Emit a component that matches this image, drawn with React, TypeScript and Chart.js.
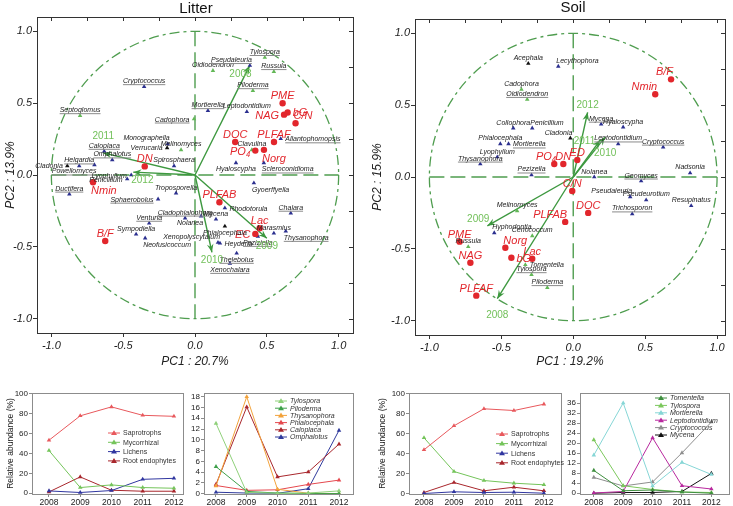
import React, { useEffect, useRef } from 'react';
import { Chart, registerables } from 'chart.js';
Chart.register(...registerables);

const FONT = "'Liberation Sans', Arial, Helvetica, sans-serif";

// ================= Biplot data: Litter =================
const litterEnvNames = ['PME', 'bG', 'NAG', 'C/N', 'DOC', 'PLFAF', 'PO₄', 'Norg', 'DN', 'Nmin', 'B/F', 'PLFAB', 'Lac', 'EC'];
const litterEnvPC1 = [0.61, 0.645, 0.62, 0.70, 0.28, 0.55, 0.42, 0.48, -0.35, -0.71, -0.625, 0.17, 0.45, 0.42];
const litterEnvPC2 = [0.50, 0.435, 0.42, 0.36, 0.23, 0.23, 0.17, 0.175, 0.06, -0.05, -0.46, -0.19, -0.37, -0.41];
const litterEnvPlace = ['t', 'r', 'l', 'tr', 't', 't', 'l', 'br', 't', 'br', 't', 't', 't', 'l'];

const litterBlueNames = ['Cryptococcus', 'Monographella', 'Spirosphaera', 'Helgardia', 'Caloplaca', 'Omphalotus', 'Powellomyces', 'Lyophyllum', 'Penicillium', 'Ductifera', 'Troposporella', 'Sphaerobolus', 'Cladophialophora', 'Venturia', 'Nolanea', 'Mycena', 'Sympodiella', 'Neofusicoccum', 'Rhodotorula', 'Heyderia', 'Thelebolus', 'Xenochalara', 'Hyaloscypha', 'Scleroconidioma', 'Gyoerffyella', 'Chalara', 'Marasmius', 'Thysanophora', 'Peziziella', 'Pseudaleuria', 'Mortierella', 'Leptodontidium', 'Allantophomopsis', 'Xenopolyscytalum'];
const litterBluePC1 = [-0.354, -0.19, -0.146, -0.806, -0.632, -0.576, -0.70, -0.444, -0.472, -0.875, -0.132, -0.257, -0.069, -0.319, 0.042, 0.146, -0.41, -0.347, 0.208, 0.174, 0.29, 0.243, 0.285, 0.479, 0.41, 0.667, 0.549, 0.632, 0.4375, 0.382, 0.09, 0.361, 0.597, 0.16];
const litterBluePC2 = [0.615, 0.217, 0.063, 0.063, 0.165, 0.105, 0.07, 0.0, -0.028, -0.133, -0.126, -0.168, -0.30, -0.336, -0.287, -0.308, -0.413, -0.44, -0.23, -0.475, -0.545, -0.615, 0.084, 0.084, -0.056, -0.266, -0.406, -0.392, -0.427, 0.762, 0.448, 0.44, 0.252, -0.47];
const litterBluePlace = ['t', 'tl', 't', 't', 't', 't', 'bl', 'l', 'l', 't', 't', 'l', 't', 't', 'bl', 't', 't', 'br', 'r', 'r', 'b', 'b', 'b', 'br', 'br', 't', 't', 'br', 'b', 'tl', 't', 't', 'r', 'tl'];

const litterGreenNames = ['Tylospora', 'Russula', 'Oidiodendron', 'Piloderma', 'Septoglomus', 'Cadophora', 'Melinomyces', 'Clavulina'];
const litterGreenPC1 = [0.486, 0.549, 0.125, 0.403, -0.80, -0.007, -0.097, 0.396];
const litterGreenPC2 = [0.818, 0.72, 0.727, 0.587, 0.413, 0.39, 0.175, 0.175];
const litterGreenPlace = ['t', 't', 't', 't', 't', 'l', 't', 't'];

const litterBlackNames = ['Verrucaria', 'Cladonia', 'Phialocephala'];
const litterBlackPC1 = [-0.194, -0.889, 0.208];
const litterBlackPC2 = [0.189, 0.063, -0.357];
const litterBlackPlace = ['l', 'l', 'b'];

const litterYearNames = ['2008', '2009', '2010', '2011', '2012'];
const litterYearPC1 = [0.38, 0.50, 0.118, -0.639, -0.43];
const litterYearPC2 = [0.76, -0.44, -0.538, 0.154, 0.02];
const litterYearPlace = ['bl', 'b', 'b', 'T', 'br'];

const litterUnderlined = ['Cryptococcus', 'Helgardia', 'Caloplaca', 'Omphalotus', 'Powellomyces', 'Ductifera', 'Sphaerobolus', 'Cladophialophora', 'Venturia', 'Thelebolus', 'Xenochalara', 'Scleroconidioma', 'Chalara', 'Thysanophora', 'Peziziella', 'Pseudaleuria', 'Mortierella', 'Allantophomopsis', 'Tylospora', 'Russula', 'Piloderma', 'Septoglomus', 'Cadophora'];

// ================= Biplot data: Soil =================
const soilEnvNames = ['B/F', 'Nmin', 'PO₄', 'DN', 'ED', 'C/N', 'DOC', 'PLFAB', 'PME', 'NAG', 'Norg', 'bG', 'Lac', 'PLFAF'];
const soilEnvPC1 = [0.68, 0.57, -0.132, -0.069, 0.028, -0.007, 0.104, -0.056, -0.79, -0.715, -0.472, -0.43, -0.285, -0.674];
const soilEnvPC2 = [0.68, 0.576, 0.09, 0.09, 0.118, -0.097, -0.25, -0.3125, -0.45, -0.597, -0.493, -0.5625, -0.569, -0.826];
const soilEnvPlace = ['tl', 'tl', 'tl', 't', 't', 't', 't', 'tl', 't', 't', 'tr', 'r', 't', 't'];

const soilBlueNames = ['Lecythophora', 'Collophora', 'Penicillium', 'Phialocephala', 'Mortierella', 'Lyophyllum', 'Thysanophora', 'Pezizella', 'Mycena', 'Hyaloscypha', 'Leptodontidium', 'Cryptococcus', 'Nolanea', 'Geomyces', 'Nadsonia', 'Pseudaleuria', 'Pseudeurotium', 'Resupinatus', 'Trichosporon', 'Hyphodontia'];
const soilBluePC1 = [-0.104, -0.417, -0.285, -0.507, -0.45, -0.528, -0.646, -0.29, 0.194, 0.347, 0.3125, 0.625, 0.146, 0.472, 0.8125, 0.396, 0.507, 0.82, 0.41, -0.549];
const soilBluePC2 = [0.77, 0.34, 0.34, 0.23, 0.23, 0.139, 0.09, 0.014, 0.368, 0.347, 0.23, 0.208, 0.0, -0.028, 0.028, -0.139, -0.16, -0.20, -0.257, -0.389];
const soilBluePlace = ['tr', 't', 'tr', 't', 'r', 't', 't', 't', 't', 't', 't', 't', 't', 't', 't', 'tl', 't', 't', 't', 'tr'];

const soilGreenNames = ['Cadophora', 'Oidiodendron', 'Melinomyces', 'Cenococcum', 'Russula', 'Tomentella', 'Tylospora', 'Piloderma'];
const soilGreenPC1 = [-0.36, -0.32, -0.39, -0.285, -0.73, -0.333, -0.29, -0.18];
const soilGreenPC2 = [0.61, 0.54, -0.236, -0.41, -0.486, -0.611, -0.68, -0.77];
const soilGreenPlace = ['t', 't', 't', 't', 't', 'r', 't', 't'];

const soilBlackNames = ['Acephala', 'Cladonia'];
const soilBlackPC1 = [-0.3125, -0.02];
const soilBlackPC2 = [0.79, 0.27];
const soilBlackPlace = ['t', 'tl'];

const soilYearNames = ['2008', '2009', '2010', '2011', '2012'];
const soilYearPC1 = [-0.528, -0.597, 0.222, 0.1875, 0.10];
const soilYearPC2 = [-0.847, -0.34, 0.278, 0.257, 0.45];
const soilYearPlace = ['B', 'tl', 'B', 'l', 't'];

const soilUnderlined = ['Mortierella', 'Thysanophora', 'Pezizella', 'Mycena', 'Leptodontidium', 'Cryptococcus', 'Geomyces', 'Trichosporon', 'Oidiodendron', 'Tylospora', 'Piloderma'];

// ================= Line chart data =================
const years = [2008, 2009, 2010, 2011, 2012];
const guildNames = ['Saprotrophs', 'Mycorrhizal', 'Lichens', 'Root endophytes'];

const litterSaprotrophs = [53.4, 78, 87, 78.5, 77.5];
const litterMycorrhizal = [43, 5.7, 8.4, 5.7, 5];
const litterLichens = [2.3, 0.7, 2.7, 14, 15];
const litterRootEndophytes = [1.3, 16.4, 3, 2, 2];

const litterGeneraNames = ['Tylospora', 'Piloderma', 'Thysanophora', 'Phialocephala', 'Caloplaca', 'Omphalotus'];
const litterTylospora = [13.05, 0.2, 0.06, 0.1, 0.5];
const litterPiloderma = [5, 0.4, 0.1, 0, 0];
const litterThysanophora = [1.4, 18, 0.8, 0.06, 0];
const litterPhialocephala = [1.5, 0.6, 0.7, 1.7, 2.5];
const litterCaloplaca = [1.7, 16.1, 3.1, 4, 9.2];
const litterOmphalotus = [0.25, 0.1, 0.05, 0.9, 11.75];

const soilSaprotrophs = [43.7, 67.7, 84.7, 83, 89.3];
const soilMycorrhizal = [55.7, 22, 13, 10.3, 8.7];
const soilLichens = [0, 1.7, 1, 1.3, 0.3];
const soilRootEndophytes = [1, 11, 2.7, 6.3, 2.7];

const soilGeneraNames = ['Tomentella', 'Tylospora', 'Mortierella', 'Leptodontidium', 'Cryptococcus', 'Mycena'];
const soilTomentella = [9.1, 1, 1.3, 0.5, 0];
const soilTylospora = [21.3, 3, 1.5, 0.5, 0.3];
const soilMortierella = [15.2, 36, 2.9, 12.3, 7.5];
const soilLeptodontidium = [0.1, 0.7, 22.1, 3, 1.7];
const soilCryptococcus = [6.3, 2.9, 4.5, 16.1, 28.4];
const soilMycena = [0, 0.3, 0.3, 0.7, 7.9];

// ================= Colours =================
const RED = '#e2262c';
const BLUE = '#2b2f8f';
const GREEN_PT = '#63b857';
const ARROW = '#3d983f';
const YEARCOL = '#72c05a';
const DASH = '#4f9d4f';

// ================= Biplot =================
function drawTag(ctx: CanvasRenderingContext2D, text: string, px: number, py: number, placeIn: string, gapIn: number, fontSize: number, underline: boolean) {
  let place = placeIn;
  let gap = gapIn;
  if (place === 'T') { place = 't'; gap = gapIn * 3.5; }
  if (place === 'B') { place = 'b'; gap = gapIn * 3; }
  const w = ctx.measureText(text).width;
  const asc = fontSize * 0.72;
  const v = place[0];
  const h = place.length === 2 ? place[1] : '';
  let base: number;
  if (v === 't') base = py - gap;
  else if (v === 'b') base = py + gap + asc;
  else base = py + asc / 2;
  let left: number;
  if (place === 't' || place === 'b') left = px - w / 2;
  else if (place === 'l') left = px - gap - 1 - w;
  else if (place === 'r') left = px + gap + 1;
  else if (h === 'l') left = px + 2 - w;
  else left = px - 2;
  ctx.textAlign = 'left';
  ctx.textBaseline = 'alphabetic';
  ctx.fillText(text, left, base);
  if (underline) {
    ctx.save();
    ctx.strokeStyle = '#8a8a8a';
    ctx.lineWidth = 1;
    ctx.beginPath();
    ctx.moveTo(left, base + 1.5);
    ctx.lineTo(left + w, base + 1.5);
    ctx.stroke();
    ctx.restore();
  }
}

function makeBiplotPlugin(underlined: string[]) {
  return {
    id: 'biplot',
    beforeDatasetsDraw(chart: any) {
      const { ctx } = chart;
      const x = chart.scales.x, y = chart.scales.y;
      const cx = x.getPixelForValue(0), cy = y.getPixelForValue(0);
      const rx = x.getPixelForValue(1) - cx, ry = cy - y.getPixelForValue(1);
      ctx.save();
      ctx.strokeStyle = DASH;
      ctx.lineWidth = 1.3;
      ctx.setLineDash([10, 4, 3, 4]);
      ctx.beginPath();
      ctx.ellipse(cx, cy, rx, ry, 0, 0, Math.PI * 2);
      ctx.stroke();
      ctx.setLineDash([15, 6]);
      ctx.lineWidth = 1.4;
      ctx.beginPath();
      ctx.moveTo(x.getPixelForValue(-1), cy);
      ctx.lineTo(x.getPixelForValue(1), cy);
      ctx.moveTo(cx, y.getPixelForValue(1));
      ctx.lineTo(cx, y.getPixelForValue(-1));
      ctx.stroke();
      ctx.setLineDash([]);
      // year arrows
      chart.data.datasets.forEach((d: any, di: number) => {
        if (d.kind !== 'year') return;
        const meta = chart.getDatasetMeta(di);
        meta.data.forEach((el: any) => {
          const tx = el.x, ty = el.y;
          const ang = Math.atan2(ty - cy, tx - cx);
          ctx.strokeStyle = ARROW;
          ctx.fillStyle = ARROW;
          ctx.lineWidth = 1.4;
          ctx.beginPath();
          ctx.moveTo(cx, cy);
          ctx.lineTo(tx, ty);
          ctx.stroke();
          const L = 9, a = 0.38;
          ctx.beginPath();
          ctx.moveTo(tx, ty);
          ctx.lineTo(tx - L * Math.cos(ang - a), ty - L * Math.sin(ang - a));
          ctx.lineTo(tx - L * 0.6 * Math.cos(ang), ty - L * 0.6 * Math.sin(ang));
          ctx.lineTo(tx - L * Math.cos(ang + a), ty - L * Math.sin(ang + a));
          ctx.closePath();
          ctx.fill();
        });
      });
      ctx.restore();
    },
    afterDatasetsDraw(chart: any) {
      const { ctx, chartArea } = chart;
      const x = chart.scales.x, y = chart.scales.y;
      ctx.save();
      chart.data.datasets.forEach((d: any, di: number) => {
        const meta = chart.getDatasetMeta(di);
        let fs = 7, gap = 3.5;
        if (d.kind === 'env') { fs = 11; gap = 4; ctx.font = `italic ${fs}px ${FONT}`; ctx.fillStyle = RED; }
        else if (d.kind === 'year') { fs = 10; gap = 4; ctx.font = `${fs}px ${FONT}`; ctx.fillStyle = YEARCOL; }
        else { ctx.font = `italic ${fs}px ${FONT}`; ctx.fillStyle = '#222'; }
        meta.data.forEach((el: any, i: number) => {
          const name = d.names[i];
          drawTag(ctx, name, el.x, el.y, d.place[i], gap, fs, underlined.includes(name) && d.kind !== 'env' && d.kind !== 'year');
        });
      });
      // frame
      ctx.strokeStyle = '#333';
      ctx.lineWidth = 1;
      ctx.strokeRect(Math.round(chartArea.left) + 0.5, Math.round(chartArea.top) + 0.5, Math.round(chartArea.right - chartArea.left), Math.round(chartArea.bottom - chartArea.top));
      // inward minor ticks on top and right
      ctx.beginPath();
      for (let v = -1; v <= 1.0001; v += 0.25) {
        const px = Math.round(x.getPixelForValue(v)) + 0.5;
        ctx.moveTo(px, chartArea.top);
        ctx.lineTo(px, chartArea.top + 4);
        const py = Math.round(y.getPixelForValue(v)) + 0.5;
        ctx.moveTo(chartArea.right, py);
        ctx.lineTo(chartArea.right - 4, py);
      }
      ctx.stroke();
      ctx.restore();
    },
  };
}

function ptDataset(kind: string, names: string[], xs: number[], ys: number[], place: string[], color: string, style: string, radius: number) {
  return {
    label: kind,
    kind,
    names,
    place,
    data: xs.map((v, i) => ({ x: v, y: ys[i] })),
    pointStyle: style,
    pointRadius: radius,
    pointHoverRadius: radius,
    backgroundColor: color,
    borderColor: color,
    borderWidth: 0,
    showLine: false,
  };
}

const majorTicks = [-1, -0.5, 0, 0.5, 1];

function makeBiplotConfig(p: any) {
  const tickFont = { family: FONT, size: 11, style: 'italic' as const };
  const titleFont = { family: FONT, size: 12, style: 'italic' as const };
  return {
    type: 'scatter',
    data: {
      datasets: [
        ptDataset('env', p.envNames, p.envX, p.envY, p.envPlace, RED, 'circle', 3.2),
        ptDataset('black', p.blackNames, p.blackX, p.blackY, p.blackPlace, '#111', 'triangle', 2.6),
        ptDataset('green', p.greenNames, p.greenX, p.greenY, p.greenPlace, GREEN_PT, 'triangle', 2.6),
        ptDataset('blue', p.blueNames, p.blueX, p.blueY, p.bluePlace, BLUE, 'triangle', 2.6),
        ptDataset('year', p.yearNames, p.yearX, p.yearY, p.yearPlace, ARROW, 'circle', 0),
      ],
    },
    options: {
      responsive: false,
      animation: false,
      layout: { padding: { top: p.padTop, right: p.padRight, left: 0, bottom: 0 } },
      plugins: { legend: { display: false }, tooltip: { enabled: false } },
      scales: {
        x: {
          type: 'linear', min: p.xMin, max: p.xMax,
          afterBuildTicks: (s: any) => { s.ticks = majorTicks.map((v) => ({ value: v })); },
          afterFit: (s: any) => { s.height = p.xHeight; },
          ticks: { callback: (v: any) => Number(v).toFixed(1), font: tickFont, color: '#222', padding: 2, maxRotation: 0, autoSkip: false },
          grid: { drawOnChartArea: false, tickLength: 4, color: '#333' },
          border: { display: false },
          title: { display: true, text: p.xTitle, font: titleFont, color: '#222', padding: { top: 0, bottom: 3 } },
        },
        y: {
          type: 'linear', min: -1.1, max: 1.1,
          afterBuildTicks: (s: any) => { s.ticks = majorTicks.map((v) => ({ value: v })); },
          afterFit: (s: any) => { s.width = p.yWidth; },
          ticks: { callback: (v: any) => Number(v).toFixed(1), font: tickFont, color: '#222', padding: 1, autoSkip: false },
          grid: { drawOnChartArea: false, tickLength: 4, color: '#333' },
          border: { display: false },
          title: { display: true, text: p.yTitle, font: titleFont, color: '#222', padding: { top: p.yTitlePad, bottom: 0 } },
        },
      },
    },
    plugins: [makeBiplotPlugin(p.underlined)],
  };
}

// ================= Line charts =================
function makeLinePlugin(legend: any) {
  return {
    id: 'frameLegend',
    afterDatasetsDraw(chart: any) {
      const { ctx, chartArea } = chart;
      ctx.save();
      ctx.strokeStyle = '#8c8c8c';
      ctx.lineWidth = 1;
      ctx.strokeRect(Math.round(chartArea.left) + 0.5, Math.round(chartArea.top) + 0.5, Math.round(chartArea.right - chartArea.left), Math.round(chartArea.bottom - chartArea.top));
      ctx.font = `${legend.italic ? 'italic ' : ''}7px ${FONT}`;
      ctx.textBaseline = 'middle';
      ctx.textAlign = 'left';
      chart.data.datasets.forEach((d: any, i: number) => {
        const yy = legend.y + i * legend.dy;
        const x0 = legend.x;
        ctx.strokeStyle = d.borderColor;
        ctx.fillStyle = d.borderColor;
        ctx.lineWidth = 1;
        ctx.beginPath();
        ctx.moveTo(x0, yy);
        ctx.lineTo(x0 + 12, yy);
        ctx.stroke();
        ctx.beginPath();
        ctx.moveTo(x0 + 6, yy - 2.8);
        ctx.lineTo(x0 + 9, yy + 2);
        ctx.lineTo(x0 + 3, yy + 2);
        ctx.closePath();
        ctx.fill();
        ctx.fillStyle = '#333';
        ctx.fillText(d.label, x0 + 15, yy + 0.5);
      });
      ctx.restore();
    },
  };
}

function makeLineConfig(p: any) {
  const tickFont = { family: FONT, size: 8.5 };
  return {
    type: 'line',
    data: {
      datasets: p.names.map((n: string, i: number) => ({
        label: n,
        data: years.map((yr, j) => ({ x: yr, y: p.values[i][j] })),
        borderColor: p.colors[i],
        backgroundColor: p.colors[i],
        borderWidth: 1,
        pointStyle: 'triangle',
        pointRadius: 2.6,
        pointBorderWidth: 0,
        tension: 0,
        fill: false,
      })),
    },
    options: {
      responsive: false,
      animation: false,
      layout: { padding: { top: p.padTop, right: p.padRight, left: 0, bottom: 0 } },
      plugins: { legend: { display: false }, tooltip: { enabled: false } },
      scales: {
        x: {
          type: 'linear', min: p.xMin, max: p.xMax,
          afterBuildTicks: (s: any) => { s.ticks = years.map((v) => ({ value: v })); },
          afterFit: (s: any) => { s.height = 12; },
          ticks: { callback: (v: any) => String(v), font: tickFont, color: '#222', padding: 1, maxRotation: 0, autoSkip: false },
          grid: { drawOnChartArea: false, tickLength: 3, color: '#8c8c8c' },
          border: { display: false },
        },
        y: {
          type: 'linear', min: p.yMin, max: p.yMax,
          afterBuildTicks: (s: any) => { s.ticks = p.yTicks.map((v: number) => ({ value: v })); },
          afterFit: (s: any) => { s.width = p.yWidth; },
          ticks: { font: { family: FONT, size: 8 }, color: '#222', padding: 1, autoSkip: false },
          grid: { drawOnChartArea: false, tickLength: 3, color: '#8c8c8c' },
          border: { display: false },
          title: { display: !!p.yTitle, text: p.yTitle || '', font: { family: FONT, size: 8.5 }, color: '#222', padding: { top: p.yTitlePad || 0, bottom: 0 } },
        },
      },
    },
    plugins: [makeLinePlugin(p.legend)],
  };
}

// ================= Components =================
function ChartCanvas({ left, top, width, height, build }: any) {
  const ref = useRef<HTMLCanvasElement>(null);
  useEffect(() => {
    const chart = new Chart(ref.current as HTMLCanvasElement, build());
    return () => chart.destroy();
  }, []);
  return <canvas ref={ref} width={width} height={height} style={{ position: 'absolute', left, top, width, height }} />;
}

const litterBiplot = () => makeBiplotConfig({
  envNames: litterEnvNames, envX: litterEnvPC1, envY: litterEnvPC2, envPlace: litterEnvPlace,
  blueNames: litterBlueNames, blueX: litterBluePC1, blueY: litterBluePC2, bluePlace: litterBluePlace,
  greenNames: litterGreenNames, greenX: litterGreenPC1, greenY: litterGreenPC2, greenPlace: litterGreenPlace,
  blackNames: litterBlackNames, blackX: litterBlackPC1, blackY: litterBlackPC2, blackPlace: litterBlackPlace,
  yearNames: litterYearNames, yearX: litterYearPC1, yearY: litterYearPC2, yearPlace: litterYearPlace,
  underlined: litterUnderlined,
  xMin: -1.1, xMax: 1.1, padTop: 17, padRight: 15, xHeight: 39, yWidth: 37, yTitlePad: 3,
  xTitle: 'PC1 : 20.7%', yTitle: 'PC2 : 13.9%',
});

const soilBiplot = () => makeBiplotConfig({
  envNames: soilEnvNames, envX: soilEnvPC1, envY: soilEnvPC2, envPlace: soilEnvPlace,
  blueNames: soilBlueNames, blueX: soilBluePC1, blueY: soilBluePC2, bluePlace: soilBluePlace,
  greenNames: soilGreenNames, greenX: soilGreenPC1, greenY: soilGreenPC2, greenPlace: soilGreenPlace,
  blackNames: soilBlackNames, blackX: soilBlackPC1, blackY: soilBlackPC2, blackPlace: soilBlackPlace,
  yearNames: soilYearNames, yearX: soilYearPC1, yearY: soilYearPC2, yearPlace: soilYearPlace,
  underlined: soilUnderlined,
  xMin: -1.1, xMax: 1.055, padTop: 19, padRight: 8, xHeight: 37, yWidth: 49, yTitlePad: 4,
  xTitle: 'PC1 : 19.2%', yTitle: 'PC2 : 15.9%',
});

const GUILD_COLORS = ['#e8585c', '#74c45a', '#3036a0', '#a8262c'];

const litterGuilds = () => makeLineConfig({
  names: guildNames,
  values: [litterSaprotrophs, litterMycorrhizal, litterLichens, litterRootEndophytes],
  colors: GUILD_COLORS,
  xMin: 2007.456, xMax: 2012.29, yMin: -0.8, yMax: 101, yTicks: [0, 20, 40, 60, 80, 100],
  padTop: 8, padRight: 7, yWidth: 32, yTitle: 'Relative abundance (%)', yTitlePad: 6,
  legend: { x: 108, y: 48, dy: 9.3, italic: false },
});

const litterGenera = () => makeLineConfig({
  names: litterGeneraNames,
  values: [litterTylospora, litterPiloderma, litterThysanophora, litterPhialocephala, litterCaloplaca, litterOmphalotus],
  colors: ['#8fd07a', '#3ea04a', '#f2a23a', '#e5484e', '#a8262c', '#2f3a9c'],
  xMin: 2007.61, xMax: 2012.455, yMin: -0.08, yMax: 18.7, yTicks: [0, 2, 4, 6, 8, 10, 12, 14, 16, 18],
  padTop: 8, padRight: 17, yWidth: 19,
  legend: { x: 90, y: 16, dy: 7.2, italic: true },
});

const soilGuilds = () => makeLineConfig({
  names: guildNames,
  values: [soilSaprotrophs, soilMycorrhizal, soilLichens, soilRootEndophytes],
  colors: GUILD_COLORS,
  xMin: 2007.5, xMax: 2012.57, yMin: -0.5, yMax: 100.5, yTicks: [0, 20, 40, 60, 80, 100],
  padTop: 8, padRight: 4, yWidth: 39, yTitle: 'Relative abundance (%)', yTitlePad: 8,
  legend: { x: 126, y: 49, dy: 9.6, italic: false },
});

const soilGenera = () => makeLineConfig({
  names: soilGeneraNames,
  values: [soilTomentella, soilTylospora, soilMortierella, soilLeptodontidium, soilCryptococcus, soilMycena],
  colors: ['#3f8f3f', '#7cc85c', '#86d6d6', '#b8289e', '#8e8e8e', '#111111'],
  xMin: 2007.53, xMax: 2012.6, yMin: -0.3, yMax: 40, yTicks: [0, 4, 8, 12, 16, 20, 24, 28, 32, 36],
  padTop: 8, padRight: 1, yWidth: 15,
  legend: { x: 90, y: 13, dy: 7.4, italic: true },
});

export default function App() {
  return (
    <div style={{ position: 'absolute', left: 0, top: 0, width: 733, height: 506, background: '#fff', overflow: 'hidden', fontFamily: FONT }}>
      <ChartCanvas left={0} top={0} width={368} height={372} build={litterBiplot} />
      <ChartCanvas left={366} top={0} width={367} height={372} build={soilBiplot} />
      <div style={{ position: 'absolute', left: 156, top: -1, width: 80, textAlign: 'center', fontSize: 15, lineHeight: '18px', color: '#111' }}>Litter</div>
      <div style={{ position: 'absolute', left: 533, top: -2, width: 80, textAlign: 'center', fontSize: 15, lineHeight: '18px', color: '#111' }}>Soil</div>
      <ChartCanvas left={0} top={385} width={190} height={121} build={litterGuilds} />
      <ChartCanvas left={185} top={385} width={185} height={121} build={litterGenera} />
      <ChartCanvas left={370} top={385} width={195} height={121} build={soilGuilds} />
      <ChartCanvas left={565} top={385} width={168} height={121} build={soilGenera} />
    </div>
  );
}
